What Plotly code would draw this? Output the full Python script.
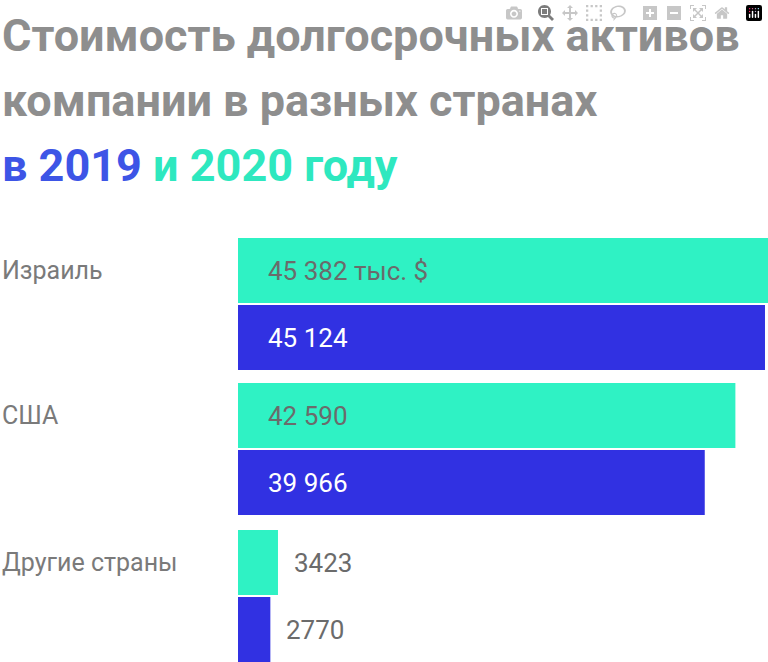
import plotly.graph_objects as go

countries = ["Израиль", "США", "Другие страны"]
v2020 = [45382, 42590, 3423]
v2019 = [45124, 39966, 2770]
lab2020 = ["45 382 тыс. $", "42 590", "3423"]
lab2019 = ["45 124", "39 966", "2770"]

W, H = 768, 662
x0 = 238
teal, blue = "#2ff2c4", "#3131e2"
xmax = 45382
def px(v): return x0 + (W - x0) * v / xmax

tops = [238, 383, 530]
bh = 65
fig = go.Figure()
y20 = [t + bh/2 for t in tops]
y19 = [t + bh + 2 + bh/2 for t in tops]
fig.add_bar(x=v2020, y=y20, orientation="h", width=bh, marker_color=teal, marker_line_width=0)
fig.add_bar(x=v2019, y=y19, orientation="h", width=bh, marker_color=blue, marker_line_width=0)

ann = []
for i, c in enumerate(countries):
    ann.append(dict(x=0, y=y20[i], xref="paper", yref="y", text=c, showarrow=False, xanchor="left",
                    font=dict(size=25, color="#7a7a7a")))
    small = v2020[i] < 10000
    for val, yy, lab, col in [(v2020[i], y20[i], lab2020[i], "#6b6b6b"), (v2019[i], y19[i], lab2019[i], "#6b6b6b" if small else "white")]:
        xpos = (px(val) + 14) if small else x0 + 28
        ann.append(dict(x=xpos / W, y=yy, xref="paper", yref="y", text=lab, showarrow=False, xanchor="left",
                        font=dict(size=26, color=col)))

tf = dict(size=45, family="Roboto", color="#8e8e8e")
for txt, yc in [("<b>Стоимость долгосрочных активов</b>", 35), ("<b>компании в разных странах</b>", 100),
                (f"<b><span style='color:#3d55e6'>в 2019</span> <span style='color:#2ee8bf'>и 2020 году</span></b>", 165)]:
    ann.append(dict(x=0, y=yc, xref="paper", yref="y", text=txt, showarrow=False, xanchor="left", font=tf))

fig.update_layout(width=W, height=H, margin=dict(l=0, r=0, t=0, b=0), plot_bgcolor="white", paper_bgcolor="white",
                  showlegend=False, barmode="overlay", annotations=ann, font=dict(family="Roboto"),
                  xaxis=dict(range=[0, xmax], domain=[x0 / W, 1], visible=False),
                  yaxis=dict(range=[H, 0], visible=False))
fig.write_html("out.html", post_script="document.body.style.margin='0';document.body.style.overflow='hidden';")
